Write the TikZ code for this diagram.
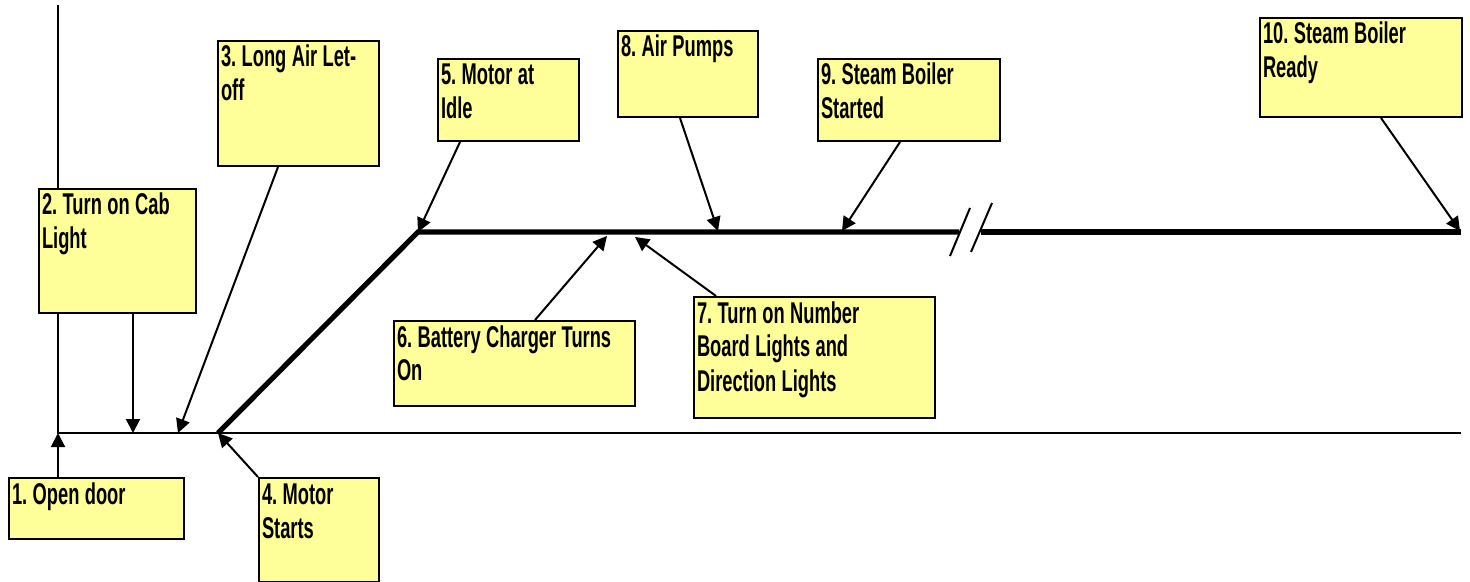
\documentclass[tikz,border=0pt]{standalone}
\usepackage{fontspec}
\setmainfont{Liberation Sans}[FakeStretch=0.61]
\definecolor{NoteYellow}{RGB}{255, 255, 153}
\usepackage{tikz}
\usetikzlibrary{arrows.meta, positioning}
\newcommand{\notefont}{\fontsize{15}{17}\selectfont\bfseries\frenchspacing}

\begin{document}
\begin{tikzpicture}[x=0.5pt, y=-0.5pt,
		font=\notefont,
		note/.style={draw, line width=1pt, fill=NoteYellow, anchor=north west, align=left,
			inner xsep=1.5pt, inner ysep=1.5pt, text height=11.5pt,
			execute at begin node={\spaceskip=2.7pt\relax}},
		axis/.style={line width=1pt},
		track/.style={line width=2.6pt},
		pointer/.style={line width=1pt, -{Triangle[length=7pt, width=7pt]}}]
	\useasboundingbox (0,0) rectangle (1470,582);

	% time line and motor line
	\coordinate (origin) at (58,433);
	\coordinate (k1) at (218,433);
	\coordinate (k2) at (418,232);
	\draw[axis] (58,5) -- (origin) -- (1461,433);
	\draw[track] (k1) -- (k2) -- (959,232);
	\draw[track] (981,232) -- (1461,232);
	\draw[axis] (950,256) -- (970,208);
	\draw[axis] (971,252) -- (992,203);

	% points on the lines
	\coordinate (a2) at (133,433);
	\coordinate (a3) at (178,433);
	\coordinate (a6) at (607,236);
	\coordinate (a7) at (635,237);
	\coordinate (a8) at (718,231);
	\coordinate (a9) at (842,231);
	\coordinate (a10) at (1460,231);

	% steps
	\node[note, text width=84.5pt, text depth=16pt] (n1) at (8,477) {1. Open door};
	\node[note, text width=75.5pt, text depth=47.5pt] (n2) at (38,188) {2. Turn on Cab\\Light};
	\node[note, text width=77.5pt, text depth=48pt] (n3) at (217,40) {3. Long Air Let-\\off};
	\node[note, text width=57pt, text depth=37.5pt] (n4) at (258,477) {4. Motor\\Starts};
	\node[note, text width=67.5pt, text depth=26.5pt] (n5) at (437,58) {5. Motor at\\Idle};
	\node[note, text width=117.5pt, text depth=28pt] (n6) at (393,320) {6. Battery Charger Turns\\On};
	\node[note, text width=117.5pt, text depth=46pt] (n7) at (693,296) {7. Turn on Number\\Board Lights and\\Direction Lights};
	\node[note, text width=67pt, text depth=28.5pt] (n8) at (617,30) {8. Air Pumps};
	\node[note, text width=88pt, text depth=26.5pt] (n9) at (817,58) {9. Steam Boiler\\Started};
	\node[note, text width=98pt, text depth=35pt] (n10) at (1259,17) {10. Steam Boiler\\Ready};

	\draw[pointer] (origin |- n1.north) -- (origin);
	\draw[pointer] (a2 |- n2.south) -- (a2);
	\draw[pointer] ([xshift=30.5pt]n3.south west) -- (a3);
	\draw[pointer] (n4.north west) -- (k1);
	\draw[pointer] ([xshift=11.5pt]n5.south west) -- (k2);
	\draw[pointer] ([xshift=71pt]n6.north west) -- (a6);
	\draw[pointer] ([xshift=11.5pt]n7.north west) -- (a7);
	\draw[pointer] ([xshift=31.5pt]n8.south west) -- (a8);
	\draw[pointer] ([xshift=41.5pt]n9.south west) -- (a9);
	\draw[pointer] ([xshift=61pt]n10.south west) -- (a10);
\end{tikzpicture}
\end{document}
